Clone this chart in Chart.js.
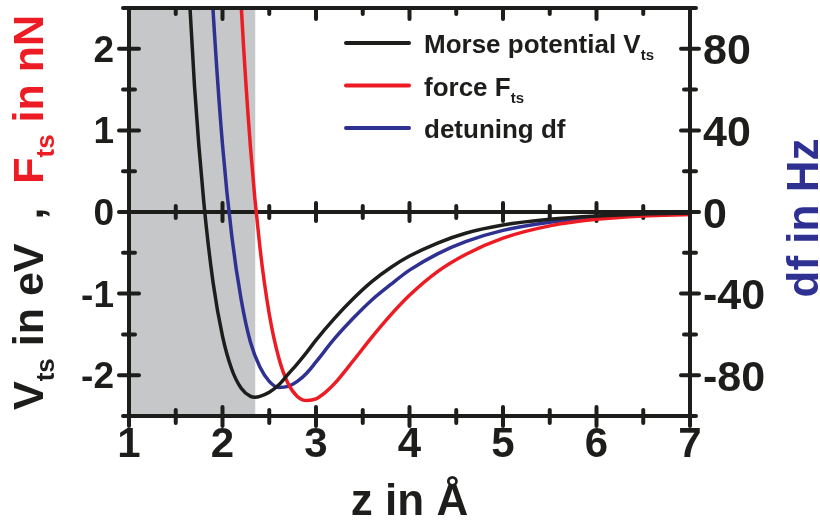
<!DOCTYPE html>
<html lang="en">
<head>
<meta charset="UTF-8">
<title>Morse potential, force and detuning</title>
<style>
  body { margin: 0; background: #fff; }
  #wrap { width: 820px; height: 523px; }
</style>
</head>
<body>
<div id="wrap"><canvas id="chart"></canvas></div>
<script src="https://cdn.jsdelivr.net/npm/chart.js@4.4.1/dist/chart.umd.min.js"></script>
<script>
// tip-sample distance z (Angstrom) and the three curves
const zV  = [1.6, 1.7, 1.8, 1.9, 2.0, 2.1, 2.2, 2.3, 2.35, 2.4, 2.5, 2.6, 2.7, 2.8, 2.9, 3.0, 3.2, 3.4, 3.6, 3.8, 4.0, 4.3, 4.6, 5.0, 5.5, 6.0, 6.5, 7.0]
const vts = [3.58, 1.55, 0.12, -0.87, -1.52, -1.93, -2.16, -2.26, -2.27, -2.26, -2.21, -2.12, -1.99, -1.86, -1.72, -1.57, -1.30, -1.06, -0.85, -0.68, -0.54, -0.38, -0.26, -0.16, -0.09, -0.05, -0.025, -0.013]

const zF  = [2.1, 2.2, 2.3, 2.4, 2.5, 2.6, 2.7, 2.8, 2.9, 3.0, 3.1, 3.2, 3.4, 3.6, 3.8, 4.0, 4.3, 4.6, 5.0, 5.5, 6.0, 6.5, 7.0]
const fts = [4.97, 2.53, 0.78, -0.43, -1.25, -1.78, -2.10, -2.26, -2.31, -2.29, -2.21, -2.10, -1.82, -1.53, -1.26, -1.02, -0.73, -0.52, -0.32, -0.17, -0.09, -0.05, -0.03]

const zDf = [1.85, 1.9, 2.0, 2.1, 2.2, 2.3, 2.4, 2.5, 2.6, 2.7, 2.8, 2.9, 3.0, 3.2, 3.4, 3.6, 3.8, 4.0, 4.3, 4.6, 5.0, 5.5, 6.0, 6.5, 7.0]
const df  = [140, 98, 33, -12, -43, -64, -76, -83, -86, -85.5, -83, -79, -73.5, -62, -52, -43, -35.5, -28.5, -20.5, -14.5, -9, -5, -2.7, -1.5, -0.8]

// repulsive region, shaded grey
const shadeRange = [1, 2.35]

const xTicks = [1, 2, 3, 4, 5, 6, 7]
const leftTicks = [-2, -1, 0, 1, 2]
const rightTicks = [-80, -40, 0, 40, 80]

const INK = '#1d1d1b'
const RED = '#ed1c24'
const BLUE = '#2e3192'
const GRAY = '#c6c7c9'
const FONT = "'Liberation Sans', Arial, sans-serif"

const toPoints = (xs, ys) => xs.map((x, i) => ({ x: x, y: ys[i] }))

const line = (ctx, x1, y1, x2, y2) => {
    ctx.beginPath()
    ctx.moveTo(x1, y1)
    ctx.lineTo(x2, y2)
    ctx.stroke()
}

// draws text pieces one after another, subscripts shifted down
const richText = (ctx, parts, x, y) => {
    let cx = x
    parts.forEach(p => {
        ctx.font = 'bold ' + p.size + 'px ' + FONT
        ctx.fillStyle = p.color
        ctx.fillText(p.t, cx, y + (p.dy || 0))
        cx += ctx.measureText(p.t).width
    })
}

const figurePlugin = {
    id: 'figure',
    beforeDatasetsDraw(chart) {
        const { ctx, chartArea: a, scales: { x, y } } = chart
        ctx.save()
        const x0 = x.getPixelForValue(shadeRange[0])
        const x1 = x.getPixelForValue(shadeRange[1])
        ctx.fillStyle = GRAY
        ctx.fillRect(x0, a.top, x1 - x0, a.bottom - a.top)

        // axis line through zero with its own ticks
        const y0 = y.getPixelForValue(0)
        ctx.strokeStyle = INK
        ctx.lineWidth = 4
        ctx.lineCap = 'butt'
        line(ctx, a.left, y0, a.right, y0)
        ctx.lineCap = 'round'
        for (let v = 1.5; v < 7; v += 0.5) {
            const px = x.getPixelForValue(v)
            const h = Number.isInteger(v) ? 9 : 6
            line(ctx, px, y0 - h, px, y0 + h)
        }
        ctx.restore()
    },
    afterDatasetsDraw(chart) {
        const { ctx, chartArea: a, scales: { x, y, y2 } } = chart
        ctx.save()
        ctx.strokeStyle = INK
        ctx.lineWidth = 4
        ctx.strokeRect(a.left, a.top, a.right - a.left, a.bottom - a.top)

        ctx.lineCap = 'round'
        ctx.lineWidth = 4
        for (let v = 1; v <= 7; v += 0.5) {
            const px = x.getPixelForValue(v)
            const major = Number.isInteger(v)
            line(ctx, px, a.bottom - (major ? 9 : 6), px, a.bottom + (major ? 10 : 7))
            line(ctx, px, a.top, px, a.top + (major ? 11 : 6))
        }
        for (let v = -2.5; v <= 2.5; v += 0.5) {
            const py = y.getPixelForValue(v)
            const h = Number.isInteger(v) ? 10 : 6
            line(ctx, a.left - h, py, a.left + h, py)
        }
        for (let v = -100; v <= 100; v += 20) {
            const py = y2.getPixelForValue(v)
            const h = v % 40 === 0 ? 9 : 6
            line(ctx, a.right - h, py, a.right + h, py)
        }

        // tick labels
        ctx.fillStyle = INK
        ctx.textBaseline = 'alphabetic'
        ctx.font = 'bold 37px ' + FONT
        ctx.textAlign = 'right'
        leftTicks.forEach(v => ctx.fillText(String(v), a.left - 15, y.getPixelForValue(v) + 13))
        ctx.font = 'bold 43px ' + FONT
        ctx.textAlign = 'left'
        rightTicks.forEach(v => ctx.fillText(String(v), a.right + 13, y2.getPixelForValue(v) + 15.5))
        ctx.font = 'bold 42px ' + FONT
        ctx.textAlign = 'center'
        xTicks.forEach(v => ctx.fillText(String(v), x.getPixelForValue(v), 457))

        // axis titles
        ctx.font = 'bold 44px ' + FONT
        ctx.fillText('z in \u00c5', (a.left + a.right) / 2, 515)

        ctx.save()
        ctx.translate(818, (a.top + a.bottom) / 2 + 6)
        ctx.rotate(-Math.PI / 2)
        ctx.textAlign = 'center'
        ctx.fillStyle = BLUE
        ctx.fillText('df in Hz', 0, 0)
        ctx.restore()

        ctx.save()
        ctx.translate(43, 410)
        ctx.rotate(-Math.PI / 2)
        ctx.textAlign = 'left'
        richText(ctx, [
            { t: 'V', size: 43, color: INK },
            { t: 'ts', size: 26, color: INK, dy: 11 },
            { t: ' in eV  ,  ', size: 43, color: INK },
            { t: 'F', size: 43, color: RED },
            { t: 'ts', size: 26, color: RED, dy: 11 },
            { t: ' in nN', size: 43, color: RED }
        ], 0, 0)
        ctx.restore()

        // legend
        ctx.textAlign = 'left'
        chart.data.datasets.forEach((ds, i) => {
            const ly = 43 + i * 42.5
            ctx.strokeStyle = ds.borderColor
            ctx.lineWidth = 4
            ctx.lineCap = 'round'
            line(ctx, 346, ly, 409, ly)
            const parts = [{ t: ds.label, size: 26, color: INK }]
            if (ds.sub) parts.push({ t: ds.sub, size: 15, color: INK, dy: 7 })
            richText(ctx, parts, 424, ly + 10)
        })
        ctx.restore()
    }
}

const chartData = {
    datasets: [
        {
            label: 'Morse potential V',
            sub: 'ts',
            data: toPoints(zV, vts),
            borderColor: INK,
            yAxisID: 'y'
        },
        {
            label: 'force F',
            sub: 'ts',
            data: toPoints(zF, fts),
            borderColor: RED,
            yAxisID: 'y'
        },
        {
            label: 'detuning df',
            data: toPoints(zDf, df),
            borderColor: BLUE,
            yAxisID: 'y2'
        }
    ]
}

const config = {
    type: 'line',
    data: chartData,
    options: {
        responsive: true,
        maintainAspectRatio: false,
        animation: false,
        layout: { padding: { left: 129, right: 130, top: 8, bottom: 107 } },
        plugins: { legend: { display: false }, tooltip: { enabled: false } },
        elements: {
            point: { radius: 0 },
            line: { borderWidth: 3.5, cubicInterpolationMode: 'monotone', fill: false }
        },
        scales: {
            x: { type: 'linear', min: 1, max: 7, display: false },
            y: { type: 'linear', min: -2.5, max: 2.5, display: false },
            y2: { type: 'linear', min: -100, max: 100, display: false, position: 'right' }
        }
    },
    plugins: [figurePlugin]
}

const chart = new Chart(document.getElementById('chart'), config)
</script>
</body>
</html>
